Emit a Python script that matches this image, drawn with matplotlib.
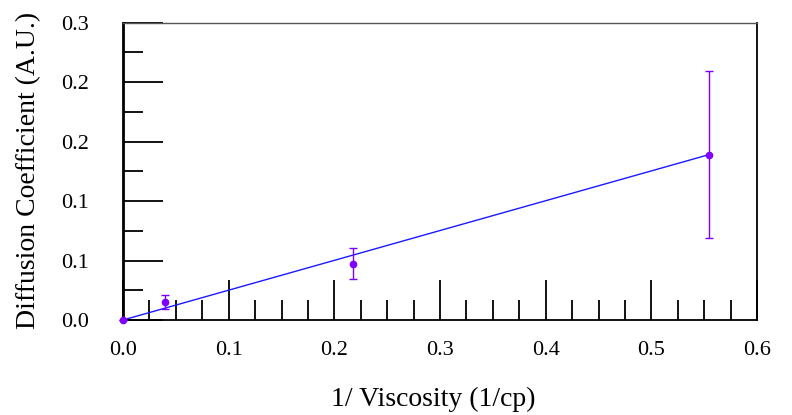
import numpy as np
import matplotlib
matplotlib.use("Agg")
import matplotlib.pyplot as plt
from matplotlib.ticker import MultipleLocator

plt.rcParams['font.family'] = ['Liberation Serif', 'DejaVu Serif']

# measured points
inv_visc = [0.0, 0.040, 0.2177, 0.555]
diff_coef = [0.0, 0.0178, 0.057, 0.167]
diff_err = [0.0, 0.007, 0.0152, 0.084]

# fit line (through origin, ends at last point)
fit_x = [0.0, 0.555]
fit_y = [0.0, 0.167]

yticks = [0.0, 0.06, 0.12, 0.18, 0.24, 0.30]
ytick_labels = ["0.0", "0.1", "0.1", "0.2", "0.2", "0.3"]
xticks = [0.0, 0.1, 0.2, 0.3, 0.4, 0.5, 0.6]
xtick_labels = ["0.0", "0.1", "0.2", "0.3", "0.4", "0.5", "0.6"]

fig = plt.figure(figsize=(7.92, 4.15), dpi=100)
ax = fig.add_axes([123/792, 1 - 320/415, 634/792, 297.3/415])

ax.plot(fit_x, fit_y, color='#1a1aff', lw=1.0, zorder=2)
ax.errorbar(inv_visc, diff_coef, yerr=diff_err, fmt='o', color='#7f00ff',
            ms=4.5, elinewidth=1.0, capsize=3, capthick=1.0, zorder=3,
            clip_on=False)

ax.set_xlim(0, 0.6)
ax.set_ylim(0, 0.3)
ax.set_xticks(xticks)
ax.set_xticklabels(xtick_labels)
ax.set_yticks(yticks)
ax.set_yticklabels(ytick_labels)
ax.xaxis.set_minor_locator(MultipleLocator(0.025))
ax.yaxis.set_minor_locator(MultipleLocator(0.03))

ax.tick_params(which='major', direction='in', length=29, width=1.3,
               labelsize=16, top=False, right=False)
ax.tick_params(which='minor', direction='in', length=14.5, width=1.3,
               top=False, right=False)
ax.tick_params(axis='y', which='major', pad=24.5)
ax.tick_params(axis='x', which='major', pad=15)

ax.spines['left'].set_linewidth(2.0)
ax.spines['bottom'].set_linewidth(1.3)
ax.spines['top'].set_linewidth(1.0)
ax.spines['top'].set_color('#555555')
ax.spines['right'].set_linewidth(1.3)

fig.text(29/792, 1 - 170/415, "Diffusion Coefficient (A.U.)", rotation=90,
         ha='center', va='center', fontsize=20)
fig.text(433/792, 1 - 399/415, "1/ Viscosity (1/cp)", ha='center',
         va='center', fontsize=20)

fig.savefig("out.png", dpi=100)
